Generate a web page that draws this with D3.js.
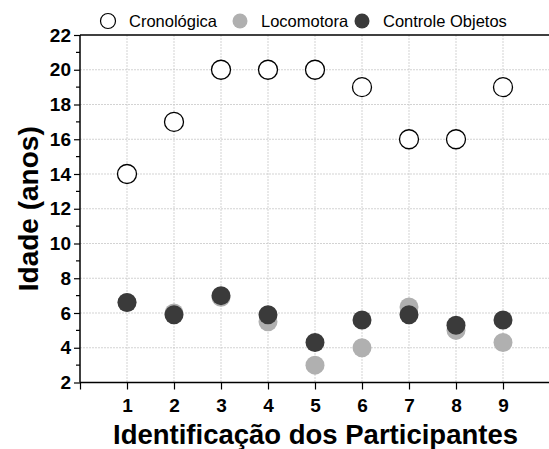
<!DOCTYPE html>
<html>
<head>
<meta charset="utf-8">
<script src="https://cdn.jsdelivr.net/npm/d3@7"></script>
<style>
  body { margin: 0; background: #fff; }
  svg { font-family: "Liberation Sans", Arial, sans-serif; }
</style>
</head>
<body>
<svg width="549" height="449"></svg>
<script>
// dados
const participantes = [1, 2, 3, 4, 5, 6, 7, 8, 9]
const cronologica = [14, 17, 20, 20, 20, 19, 16, 16, 19]
const locomotora = [6.6, 6.0, 6.9, 5.5, 3.0, 4.0, 6.35, 5.0, 4.3]
const controleObjetos = [6.6, 5.9, 7.0, 5.9, 4.3, 5.6, 5.9, 5.3, 5.6]
const yTicks = [2, 4, 6, 8, 10, 12, 14, 16, 18, 20, 22]

const series = [
  { nome: 'Cronológica', valores: cronologica, fill: '#fff', stroke: '#000' },
  { nome: 'Locomotora', valores: locomotora, fill: '#b0b0b0', stroke: 'none' },
  { nome: 'Controle Objetos', valores: controleObjetos, fill: '#3a3a3a', stroke: 'none' }
]

const svg = d3.select('svg')
const margin = { left: 80, right: 0, top: 35, bottom: 66 }
const width = 549, height = 449

const x = d3.scaleLinear().domain([0, 10]).range([margin.left, width - margin.right + 1])
const y = d3.scaleLinear().domain([2, 22]).range([height - margin.bottom + 0.5 - 1, margin.top])

// grade
const grid = svg.append('g').attr('stroke', '#c8c8c8').attr('stroke-width', 0.8).attr('stroke-dasharray', '2,1')
grid.selectAll('line.v').data(participantes).enter().append('line')
  .attr('x1', d => x(d)).attr('x2', d => x(d))
  .attr('y1', y(22)).attr('y2', y(2))
grid.selectAll('line.h').data(yTicks.slice(1, -1)).enter().append('line')
  .attr('x1', x(0)).attr('x2', width)
  .attr('y1', d => y(d)).attr('y2', d => y(d))

// eixos
const yAxis = svg.append('g')
  .attr('transform', `translate(${x(0)},0)`)
  .call(d3.axisLeft(y).tickValues(yTicks).tickSize(6).tickPadding(3))
yAxis.selectAll('.tick text').attr('font-size', 19).attr('font-weight', 'bold').attr('fill', '#000')
yAxis.select('.domain').attr('stroke-width', 1.5).attr('d', `M0,${y(22)}V${y(2)}`)
yAxis.selectAll('.tick line').attr('stroke-width', 1.2)

const minor = d3.range(3, 22, 2)
svg.append('g').selectAll('line').data(minor).enter().append('line')
  .attr('x1', x(0) - 4).attr('x2', x(0))
  .attr('y1', d => y(d)).attr('y2', d => y(d))
  .attr('stroke', '#000').attr('stroke-width', 1.2)

const xAxis = svg.append('g')
  .attr('transform', `translate(0,${y(2)})`)
  .call(d3.axisBottom(x).tickValues([0].concat(participantes)).tickSize(7).tickPadding(9)
    .tickFormat(d => d === 0 ? '' : d))
xAxis.selectAll('.tick text').attr('font-size', 19).attr('font-weight', 'bold').attr('fill', '#000')
xAxis.select('.domain').attr('stroke-width', 1.5).attr('d', `M${x(0)},0H${width}`)
xAxis.selectAll('.tick line').attr('stroke-width', 1.2)

// linha superior
svg.append('line')
  .attr('x1', x(0)).attr('x2', width)
  .attr('y1', y(22)).attr('y2', y(22))
  .attr('stroke', '#000').attr('stroke-width', 1.5)

// pontos
series.forEach(s => {
  svg.append('g').selectAll('circle').data(s.valores).enter().append('circle')
    .attr('cx', (d, i) => x(participantes[i]))
    .attr('cy', d => y(d))
    .attr('r', 9.5)
    .attr('fill', s.fill)
    .attr('stroke', s.stroke)
    .attr('stroke-width', 1.3)
})

// títulos dos eixos
svg.append('text')
  .attr('x', (x(0) + width) / 2 + 1).attr('y', 444)
  .attr('text-anchor', 'middle')
  .attr('font-size', 27.5).attr('font-weight', 'bold')
  .text('Identificação dos Participantes')

svg.append('text')
  .attr('transform', `translate(38,${(y(2) + y(22)) / 2}) rotate(-90)`)
  .attr('text-anchor', 'middle')
  .attr('font-size', 28).attr('font-weight', 'bold')
  .text('Idade (anos)')

// legenda
const legX = [108, 240, 362]
const leg = svg.append('g')
series.forEach((s, i) => {
  leg.append('circle')
    .attr('cx', legX[i]).attr('cy', 21).attr('r', 7.5)
    .attr('fill', s.fill).attr('stroke', s.stroke).attr('stroke-width', 1.2)
  leg.append('text')
    .attr('x', legX[i] + 21).attr('y', 27)
    .attr('font-size', 16.5)
    .text(s.nome)
})
</script>
</body>
</html>
